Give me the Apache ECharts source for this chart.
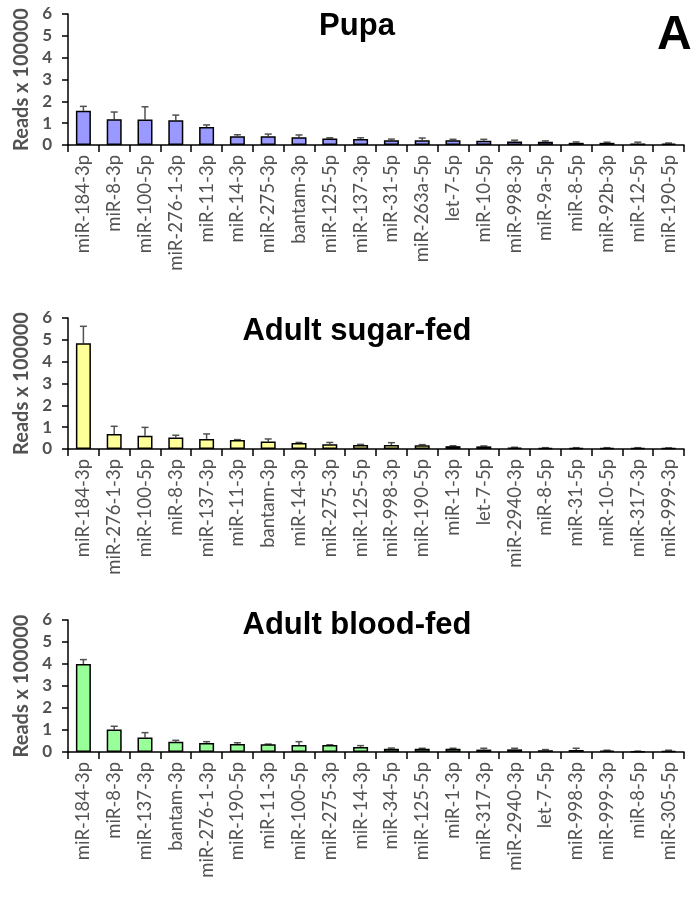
<!DOCTYPE html>
<html>
<head>
    <meta charset="utf-8">
    <script src="https://cdn.jsdelivr.net/npm/echarts@6/dist/echarts.min.js"></script>
    <style>
        html, body { margin: 0; padding: 0; background: #fff; }
    </style>
</head>
<body>
    <div id="main" style="width: 693px;height:898px;"></div>
    <script type="text/javascript">
        // panel data (reads x 100000)
        var pupaCats = ['miR-184-3p', 'miR-8-3p', 'miR-100-5p', 'miR-276-1-3p', 'miR-11-3p', 'miR-14-3p', 'miR-275-3p', 'bantam-3p', 'miR-125-5p', 'miR-137-3p',
            'miR-31-5p', 'miR-263a-5p', 'let-7-5p', 'miR-10-5p', 'miR-998-3p', 'miR-9a-5p', 'miR-8-5p', 'miR-92b-3p', 'miR-12-5p', 'miR-190-5p'];
        var pupaVals = [1.57, 1.18, 1.17, 1.13, 0.82, 0.40, 0.40, 0.36, 0.30, 0.27, 0.22, 0.22, 0.22, 0.19, 0.16, 0.15, 0.10, 0.10, 0.07, 0.06];
        var pupaErr = [0.20, 0.33, 0.58, 0.24, 0.10, 0.07, 0.10, 0.10, 0.03, 0.06, 0.05, 0.10, 0.04, 0.07, 0.06, 0.04, 0.04, 0.03, 0.06, 0.03];

        var sugarCats = ['miR-184-3p', 'miR-276-1-3p', 'miR-100-5p', 'miR-8-3p', 'miR-137-3p', 'miR-11-3p', 'bantam-3p', 'miR-14-3p', 'miR-275-3p', 'miR-125-5p',
            'miR-998-3p', 'miR-190-5p', 'miR-1-3p', 'let-7-5p', 'miR-2940-3p', 'miR-8-5p', 'miR-31-5p', 'miR-10-5p', 'miR-317-3p', 'miR-999-3p'];
        var sugarVals = [4.84, 0.69, 0.61, 0.53, 0.46, 0.41, 0.34, 0.27, 0.22, 0.18, 0.18, 0.17, 0.13, 0.12, 0.06, 0.05, 0.05, 0.05, 0.05, 0.04];
        var sugarErr = [0.78, 0.35, 0.38, 0.10, 0.23, 0.02, 0.12, 0.03, 0.08, 0.03, 0.11, 0.03, 0.02, 0.02, 0.02, 0.01, 0.01, 0.01, 0.01, 0.01];

        var bloodCats = ['miR-184-3p', 'miR-8-3p', 'miR-137-3p', 'bantam-3p', 'miR-276-1-3p', 'miR-190-5p', 'miR-11-3p', 'miR-100-5p', 'miR-275-3p', 'miR-14-3p',
            'miR-34-5p', 'miR-125-5p', 'miR-1-3p', 'miR-317-3p', 'miR-2940-3p', 'let-7-5p', 'miR-998-3p', 'miR-999-3p', 'miR-8-5p', 'miR-305-5p'];
        var bloodVals = [4.00, 1.02, 0.66, 0.47, 0.41, 0.36, 0.35, 0.32, 0.32, 0.23, 0.15, 0.15, 0.15, 0.11, 0.12, 0.08, 0.09, 0.06, 0.03, 0.05];
        var bloodErr = [0.20, 0.15, 0.22, 0.06, 0.06, 0.06, 0.01, 0.15, 0.01, 0.06, 0.03, 0.02, 0.02, 0.06, 0.05, 0.03, 0.08, 0.02, 0.01, 0.03];

        var panelTitles = ['Pupa', 'Adult sugar-fed', 'Adult blood-fed'];
        var yMin = 0, yMax = 6, yStep = 1;

        var panels = [
            { cats: pupaCats, vals: pupaVals, err: pupaErr, color: '#9999ff', top: 14, height: 131 },
            { cats: sugarCats, vals: sugarVals, err: sugarErr, color: '#ffff99', top: 318, height: 131 },
            { cats: bloodCats, vals: bloodVals, err: bloodErr, color: '#99ff99', top: 620, height: 132 }
        ];
        var titleTops = [6, 311, 605];

        var grey = '#525252';
        var grids = [], xAxes = [], yAxes = [], series = [], titles = [];

        panels.forEach(function (p, k) {
            grids.push({ left: 68, right: 9, top: p.top, height: p.height });
            titles.push({
                text: panelTitles[k], left: 352, top: titleTops[k], textAlign: 'center',
                textStyle: { fontFamily: 'Liberation Sans', fontWeight: 'bold', fontSize: 31, color: '#000' }
            });
            xAxes.push({
                type: 'category', gridIndex: k, data: p.cats,
                axisLine: { lineStyle: { color: '#000', width: 1.5 } },
                axisTick: { show: true, length: 7, lineStyle: { color: '#000', width: 1.5 } },
                axisLabel: { rotate: 90, interval: 0, margin: 10, color: grey, fontFamily: 'Lato', fontSize: 18.5 }
            });
            yAxes.push({
                type: 'value', gridIndex: k, min: yMin, max: yMax, interval: yStep,
                name: 'Reads x 100000', nameLocation: 'middle', nameGap: 36,
                nameTextStyle: { color: grey, fontFamily: 'Lato', fontWeight: 'bold', fontSize: 20 },
                splitLine: { show: false },
                axisLine: { show: true, lineStyle: { color: '#000', width: 1.5 } },
                axisTick: { show: true, length: 6, lineStyle: { color: '#000', width: 1.5 } },
                axisLabel: { color: grey, fontFamily: 'Lato', fontWeight: 'bold', fontSize: 17, margin: 16 }
            });
            series.push({
                type: 'bar', xAxisIndex: k, yAxisIndex: k, data: p.vals, barWidth: 15,
                itemStyle: { color: p.color, borderColor: '#000', borderWidth: 1.5 },
                animation: false
            });
            var errData = p.vals.map(function (v, i) { return [i, v, v + p.err[i]]; });
            series.push({
                type: 'custom', xAxisIndex: k, yAxisIndex: k, data: errData, z: 1,
                encode: { x: 0, y: [1, 2] },
                animation: false,
                renderItem: function (params, api) {
                    var lo = api.coord([api.value(0), api.value(1)]);
                    var hi = api.coord([api.value(0), api.value(2)]);
                    var style = { stroke: grey, lineWidth: 1.5 };
                    return {
                        type: 'group',
                        children: [
                            { type: 'line', shape: { x1: lo[0], y1: lo[1], x2: hi[0], y2: hi[1] }, style: style },
                            { type: 'line', shape: { x1: hi[0] - 3.5, y1: hi[1], x2: hi[0] + 3.5, y2: hi[1] }, style: style }
                        ]
                    };
                }
            });
        });

        titles.push({
            text: 'A', left: 652, top: 7,
            textStyle: { fontFamily: 'Liberation Sans', fontWeight: 'bold', fontSize: 48, color: '#000' }
        });

        var myChart = echarts.init(document.getElementById('main'));
        myChart.setOption({
            animation: false,
            title: titles,
            grid: grids,
            xAxis: xAxes,
            yAxis: yAxes,
            series: series
        });
    </script>
</body>
</html>
